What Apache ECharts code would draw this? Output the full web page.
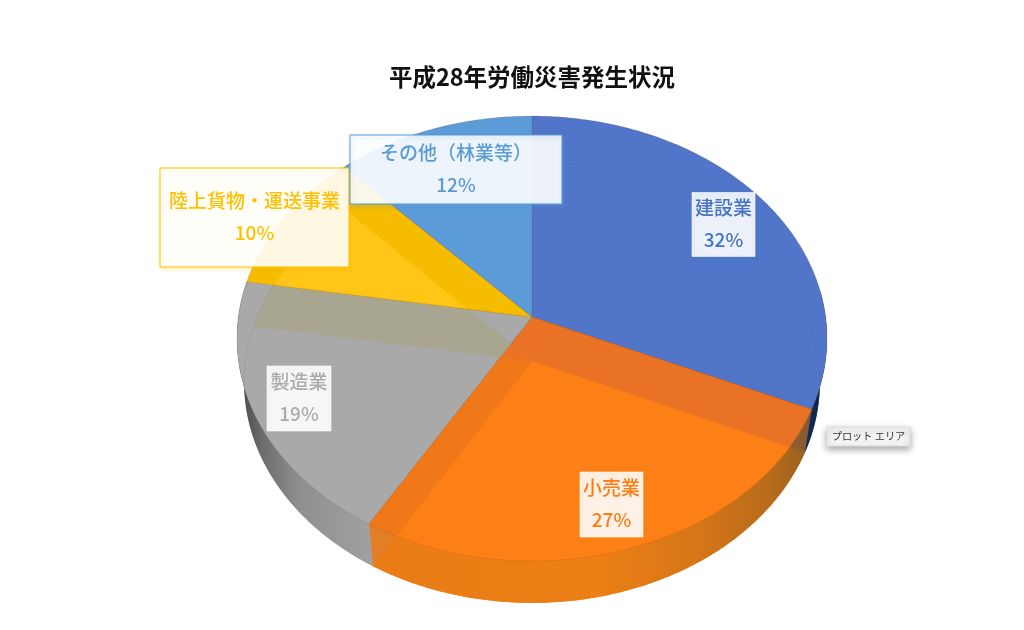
<!DOCTYPE html>
<html><head><meta charset="utf-8">
<style>html,body{margin:0;padding:0;background:#fff}#c{width:1024px;height:630px}</style>
<script src="https://cdn.jsdelivr.net/npm/echarts@6/dist/echarts.min.js"></script>
</head><body><div id="c"></div>
<script>
const titleText = '平成28年労働災害発生状況';
const categories = ['建設業','小売業','製造業','陸上貨物・運送事業','その他(林業等)'];
const categoryLabels = ['建設業','小売業','製造業','陸上貨物・運送事業','その他（林業等）'];
const values = [31.6, 26.9, 19.1, 10.4, 12.0];
const topColors = ['#5075C9','#EA7225','#A9A9A9','#F5BC00','#5B9BD8'];
const bottomColors = ['#2F55A8','#FF8A00','#A8A8A8','#FFD000','#5B9BD5'];
const labelColors = ['#4472C4','#FF7A10','#ABABAB','#FFC000','#5B9BD5'];
const tooltipNote = 'プロット エリア';
/* colour seen where a top slice (row) lies over a base slice (column); null keeps the top colour */
const blendRows = [
  [null,null,null,null,null],
  ['#EA7225','#FD8016','#F07818',null,null],
  [null,null,null,'#A8A590',null],
  [null,null,null,'#FFC617','#F5BC00'],
  [null,null,null,null,null]
];

/* layout of the tilted disc */
const topDisc = {cx:532, cy:317, rx:293.6, ry:220.4, k:0.0967};
const baseDisc = {cx:532, cy:361, rx:286.5, ry:218.5, k:0.0967};
const labelBoxes = [
  {cx:723.5,cy:224.5,w:63,h:64},{cx:611.5,cy:504.5,w:63,h:65},
  {cx:299,cy:398.5,w:64,h:65},{cx:254.5,cy:217.5,w:189,h:99},{cx:456,cy:169.5,w:212,h:69}
];
const total = values.reduce((a,b)=>a+b,0);
const starts = []; values.reduce((acc,v,i)=>{starts[i]=acc;return acc+v;},0);
const angleOf = s => s/total*2*Math.PI;
function rimPoint(d,t){
  const X=Math.sin(t),Y=Math.cos(t),w=1+d.k*Y;
  return [d.cx+d.rx*X/w,d.cy-d.ry*Y/w];
}
function arc(d,a,b){
  const n=Math.max(2,Math.ceil(Math.abs(b-a)/0.012)),p=[];
  for(let i=0;i<=n;i++)p.push(rimPoint(d,a+(b-a)*i/n));
  return p;
}
function slicePoly(d,i){
  return [[d.cx,d.cy]].concat(arc(d,angleOf(starts[i]),angleOf(starts[i]+values[i])));
}
/* convex polygon intersection (every slice is under half the disc, so convex) */
function clipConvex(subject,clip){
  let out=subject;
  for(let i=0;i<clip.length&&out.length;i++){
    const A=clip[i],B=clip[(i+1)%clip.length];
    const side=p=>(B[0]-A[0])*(p[1]-A[1])-(B[1]-A[1])*(p[0]-A[0]);
    const next=[];
    for(let j=0;j<out.length;j++){
      const P=out[j],Q=out[(j+1)%out.length],sp=side(P),sq=side(Q);
      if(sp>=0)next.push(P);
      if((sp>=0)!==(sq>=0)){const t=sp/(sp-sq);next.push([P[0]+(Q[0]-P[0])*t,P[1]+(Q[1]-P[1])*t]);}
    }
    out=next;
  }
  return out;
}
function topItem(i){
  const poly=slicePoly(topDisc,i);
  const kids=[{type:'polygon',shape:{points:poly},style:{fill:topColors[i]}}];
  blendRows[i].forEach((c,j)=>{
    if(!c)return;
    const pts=clipConvex(poly,slicePoly(baseDisc,j));
    if(pts.length>2)kids.push({type:'polygon',shape:{points:pts},style:{fill:c,stroke:c,lineWidth:0.4}});
  });
  /* faint rim of the base seen through the top */
  const clipped=arc(baseDisc,angleOf(starts[i]),angleOf(starts[i]+values[i]));
  kids.push({type:'polyline',shape:{points:clipped.filter(p=>{
      const dy=(p[1]-topDisc.cy),dx=p[0]-topDisc.cx;
      return dy<150;})},style:{stroke:'rgba(60,60,90,0.10)',fill:'none',lineWidth:0.8}});
  kids.push({type:'polyline',shape:{points:poly.concat([poly[0]])},
    style:{stroke:'rgba(130,60,10,0.22)',fill:'none',lineWidth:0.7}});
  return {type:'group',children:kids};
}
const G=(stops)=>new echarts.graphic.LinearGradient(237,0,828,0,stops.map(s=>({offset:(s[0]-237)/591,color:s[1]})),true);
const wallFill=[
  G([[790,'#16294F'],[828,'#0E1E40']]),
  G([[371,'#E87A18'],[600,'#EA7E18'],[700,'#D0731A'],[770,'#B0681E'],[812,'#8A5A24']]),
  G([[240,'#3E3E3E'],[262,'#666666'],[300,'#8C8C8C'],[372,'#A0A0A0']])
];
const wallRange=[[1.45,null],[null,null],[null,4.88]];
function wallItem(i){
  if(i>2) return {type:'group',children:[]};
  let a=angleOf(starts[i]),b=angleOf(starts[i]+values[i]);
  if(wallRange[i][0]!==null)a=wallRange[i][0];
  if(wallRange[i][1]!==null)b=wallRange[i][1];
  return {type:'polygon',shape:{points:arc(topDisc,a,b).concat(arc(baseDisc,b,a))},
    style:{fill:wallFill[i],opacity:0.9}};
}
function labelItem(i){
  const L=labelBoxes[i];
  const pct=Math.round(values[i]/total*100)+'%';
  const W=L.w,H=L.h;
  const font='500 19px "Noto Sans CJK JP"';
  return {type:'group',x:L.cx,y:L.cy,children:[
    {type:'rect',shape:{x:-W/2,y:-H/2,width:W,height:H},
     style:{fill:'rgba(255,255,255,0.89)',stroke:(i>2?labelColors[i]:'rgba(255,255,255,0.6)'),lineWidth:1,
            shadowBlur:4,shadowColor:echarts.color.modifyAlpha(labelColors[i],0.28),shadowOffsetX:1,shadowOffsetY:2}},
    {type:'text',y:-16.5,style:{text:categoryLabels[i],x:0,y:0,align:'center',verticalAlign:'middle',
      fill:labelColors[i],font}},
    {type:'text',y:15.5,style:{text:pct,x:0,y:0,align:'center',verticalAlign:'middle',
      fill:labelColors[i],font}}
  ]};
}
const data=values.map((v,i)=>({name:categories[i],value:v}));
const custom=(render,z)=>({type:'custom',coordinateSystem:'none',data,z,animation:false,silent:true,clip:false,renderItem:render});
const chart=echarts.init(document.getElementById('c'),null,{renderer:'canvas'});
chart.setOption({
  animation:false,backgroundColor:'#fff',
  title:{text:titleText,left:527,top:60,textAlign:'center',
    textStyle:{fontFamily:'"Noto Sans CJK JP"',fontSize:23.5,fontWeight:700,color:'#111'}},
  series:[
    custom((p)=>({type:'polygon',shape:{points:slicePoly(baseDisc,p.dataIndex)},style:{fill:bottomColors[p.dataIndex]}}),1),
    custom((p)=>wallItem(p.dataIndex),2),
    custom((p)=>topItem(p.dataIndex),3),
    custom((p)=>labelItem(p.dataIndex),4)
  ],
  graphic:[{type:'group',x:827,y:427,z:10,children:[
    {type:'rect',shape:{x:0,y:0,width:83,height:19},
     style:{fill:'#F4F4F4',stroke:'#DDD',lineWidth:1,shadowBlur:7,shadowColor:'rgba(0,0,0,0.35)',shadowOffsetY:3}},
    {type:'text',style:{text:tooltipNote,x:41.5,y:9.5,align:'center',verticalAlign:'middle',fill:'#333',
      font:'10.2px "Noto Sans CJK JP"'}}
  ]}]
});
</script></body></html>
